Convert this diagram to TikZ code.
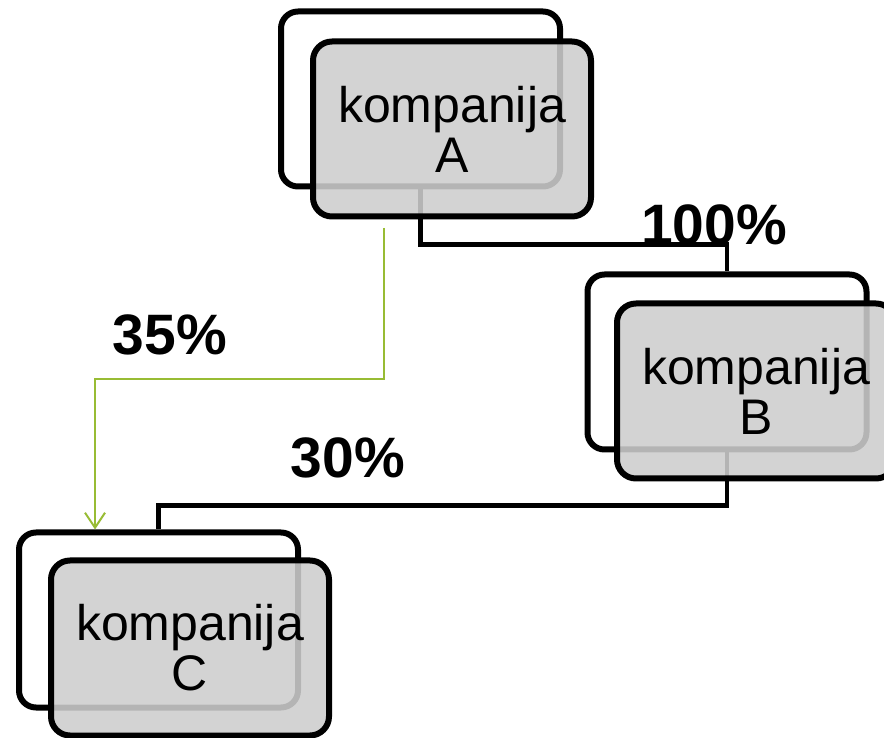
\documentclass[tikz,border=0pt]{standalone}
\usepackage{fontspec}
\setmainfont{Liberation Sans}
\usetikzlibrary{positioning, shapes, arrows.meta}

\definecolor{boxGray}{RGB}{206,206,206}
\definecolor{ownGreen}{RGB}{152,188,52}

\tikzset{
  backbox/.style={draw, line width=6pt, rounded corners=17pt, minimum width=279pt, minimum height=175pt, fill=white},
  frontbox/.style={draw, line width=6pt, rounded corners=19pt, minimum width=278pt, minimum height=175pt,
    fill=boxGray, fill opacity=0.88, text opacity=1, align=center, font=\fontsize{50}{50}\selectfont},
  link/.style={line width=4.5pt},
  own/.style={draw=ownGreen, line width=2pt, -{Straight Barb[length=15pt,width=20pt]}},
  share/.style={font=\bfseries\fontsize{57}{57}\selectfont, inner sep=0pt, anchor=base}
}

\begin{document}
\begin{tikzpicture}[x=1pt, y=1pt]
\clip (0,0) rectangle (884,737);
\fill[white] (0,0) rectangle (884,737);

\node[backbox] (backA) at (420.5,638) {};
\node[backbox] (backB) at (727,375) {};
\node[backbox] (backC) at (158.5,117) {};

\draw[link] (backA.south) -- ++(0,-55) -| (backB.north);
\draw[link] (backB.south) -- ++(0,-53) -| (backC.north);

\node[frontbox] (frontA) at ([shift={(31.5,-30)}]backA.center) {kompanija\\A};
\node[frontbox] (frontB) at ([shift={(29,-29)}]backB.center) {kompanija\\B};
\node[frontbox] (frontC) at ([shift={(31.5,-28)}]backC.center) {kompanija\\C};

%% ownership shares
\node[share] (shareAB) at (714,492) {100\%};
\node[share] (shareAC) at (170,382) {35\%};
\node[share] (shareBC) at (348,259) {30\%};

\coordinate (ownStart) at (384,509);
\coordinate (ownTurn) at (95,358);
\draw[own] (ownStart) |- (ownTurn) -- (ownTurn |- backC.north);

\end{tikzpicture}
\end{document}
